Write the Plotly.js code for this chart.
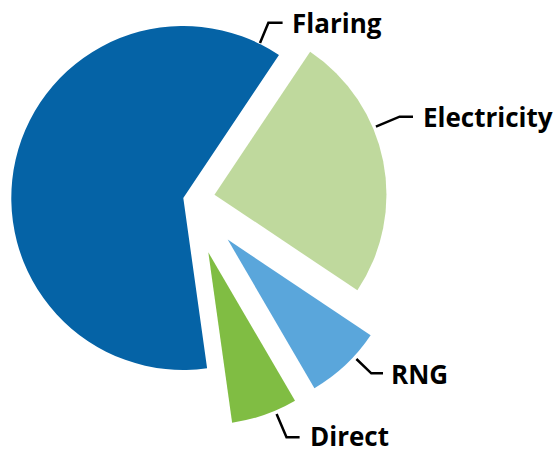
<!DOCTYPE html>
<html><head><meta charset="utf-8">
<script src="https://cdn.plot.ly/plotly-3.0.1.min.js"></script>
<style>
html,body{margin:0;padding:0;overflow:hidden;background:#fff;width:556px;height:452px;}
#chart{position:absolute;left:-40px;top:-40px;width:600px;height:500px;}
</style>
</head><body><div id="chart"></div>
<script>
// Data (clockwise order starting at the Electricity slice)
const categories = ['Electricity', 'RNG', 'Direct', 'Flaring'];
const values = [25, 7.2, 6.2, 61.6];

// Styling
const colors = ['#BFD99D', '#5AA6DB', '#80BD43', '#0563A6'];
const pulls = [0.145, 0.32, 0.325, 0.04];

// Layout geometry (screen pixels)
const OFFX = 40, OFFY = 40, W = 600, H = 500;
const CX = 190, CY = 199.5, RAD = 172;
const maxPull = Math.max(...pulls);
const R = RAD * (1 + maxPull);
const px = x => (x + OFFX) / W;
const py = y => 1 - (y + OFFY) / H;

// label placement: [text left x, text middle y], leader [x1,y1,x2,y2,x3,y3]
const labelPos = {
  'Flaring':     {tx: 290, ty: 23,  lead: [260, 43, 268.4, 22.7, 282.6, 22.7]},
  'Electricity': {tx: 421, ty: 117, lead: [375.9, 126.7, 399.6, 116.7, 413, 116.7]},
  'RNG':         {tx: 389, ty: 374, lead: [356.4, 359, 371.3, 373.3, 383, 373.3]},
  'Direct':      {tx: 308, ty: 436, lead: [276.6, 414, 286.5, 437.3, 299.6, 437.3]}
};

const trace = {
  type: 'pie',
  labels: categories,
  values: values,
  sort: false,
  direction: 'clockwise',
  rotation: 33.8,
  pull: pulls,
  marker: {colors: colors, line: {width: 0}},
  textinfo: 'none',
  hoverinfo: 'label+percent',
  showlegend: false,
  domain: {
    x: [px(CX - R), px(CX + R)],
    y: [py(CY + R), py(CY - R)]
  }
};

const annotations = categories.map(c => ({
  xref: 'paper', yref: 'paper',
  x: px(labelPos[c].tx), y: py(labelPos[c].ty),
  xanchor: 'left', yanchor: 'middle',
  text: c, showarrow: false,
  font: {family: 'Open Sans, sans-serif', size: 26, weight: 700, color: '#000'}
}));

const shapes = categories.map(c => {
  const l = labelPos[c].lead;
  return {
    type: 'path', xref: 'paper', yref: 'paper',
    path: `M ${px(l[0])} ${py(l[1])} L ${px(l[2])} ${py(l[3])} L ${px(l[4])} ${py(l[5])}`,
    line: {color: '#000', width: 2.5}
  };
});

Plotly.newPlot('chart', [trace], {
  width: W, height: H,
  margin: {l: 0, r: 0, t: 0, b: 0},
  paper_bgcolor: '#fff',
  plot_bgcolor: '#fff',
  showlegend: false,
  annotations: annotations,
  shapes: shapes
}, {displayModeBar: false, staticPlot: true});
</script>
</body></html>
